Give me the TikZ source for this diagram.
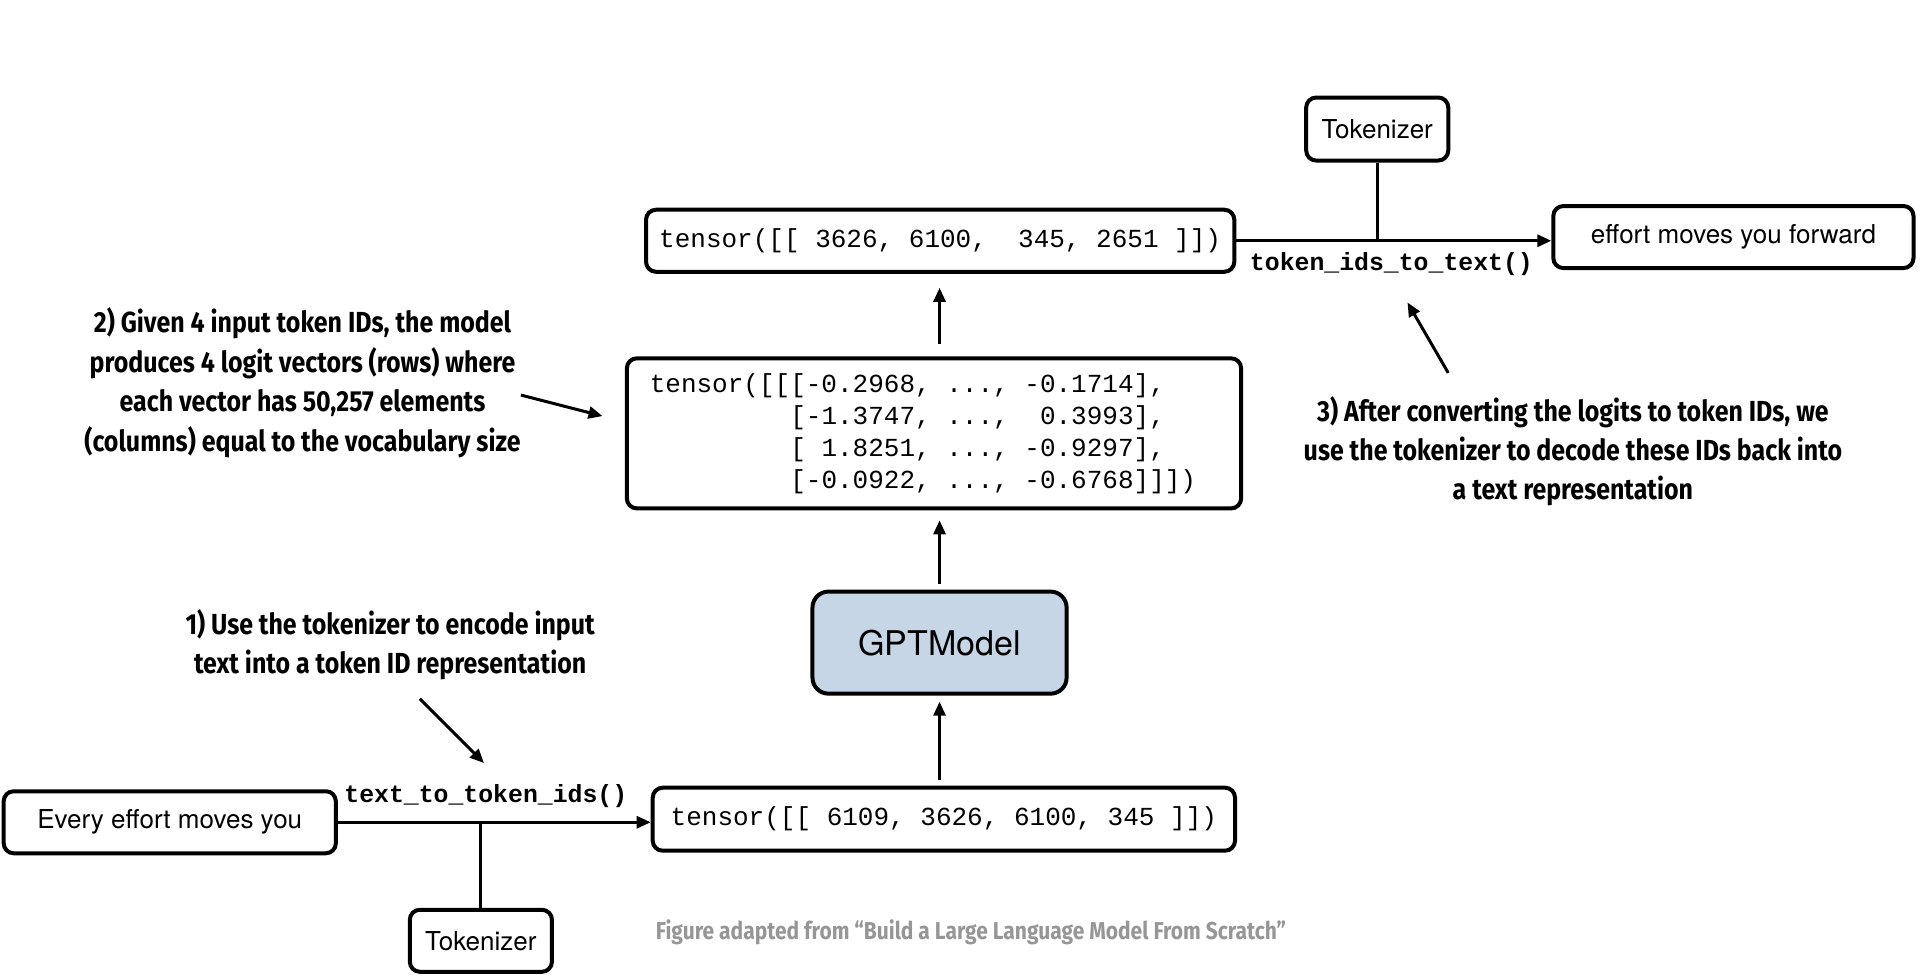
\documentclass[tikz,border=0pt]{standalone}
\usepackage{fontspec}
\setmainfont{TeX Gyre Heros}
\newfontfamily\codefont{Liberation Mono}
\newfontfamily\notefont[FakeStretch=0.86]{Fira Sans}
\usetikzlibrary{arrows.meta}
\definecolor{modelblue}{RGB}{199,214,230}
\definecolor{capgray}{RGB}{150,150,150}
\tikzset{
  box/.style={draw, line width=2pt, rounded corners=5pt, inner sep=0pt,
    font=\fontsize{13}{16}\selectfont},
  codebox/.style={box, font=\codefont\fontsize{13}{16}\selectfont},
  fnlabel/.style={inner sep=0pt, font=\codefont\bfseries\fontsize{12.4}{15}\selectfont},
  note/.style={inner sep=0pt, align=center, font=\notefont\bfseries\fontsize{14.5}{19.7}\selectfont},
  flow/.style={line width=1.5pt, -{Triangle[length=7pt,width=6pt]}},
  link/.style={line width=1.5pt}
}
\begin{document}
\begin{tikzpicture}[x=6.17pt,y=-6.17pt]
\useasboundingbox (0,0) rectangle (156,79.2);
% boxes
\node[box, minimum width=166pt, minimum height=31pt] (intext) at (13.75,66.6) {Every effort moves you};
\node[box, minimum width=71pt, minimum height=31pt] (tokL) at (38.95,76.2) {Tokenizer};
\node[codebox, minimum width=291pt, minimum height=31.5pt] (inids) at (76.45,66.35) {tensor([[ 6109, 3626, 6100, 345 ]])};
\node[box, fill=modelblue, minimum width=127pt, minimum height=51pt, rounded corners=8pt,
  font=\fontsize{17}{20}\selectfont] (gpt) at (76.1,52.05) {GPTModel};
\node[codebox, align=left, minimum width=307pt, minimum height=75pt] (logits) at (75.65,35.1)
  {tensor([[[-0.2968, ..., -0.1714],\\
   \hphantom{tensor([[}[-1.3747, ...,~ 0.3993],\\
   \hphantom{tensor([[}[ 1.8251, ..., -0.9297],\\
   \hphantom{tensor([[}[-0.0922, ..., -0.6768]]])\hspace*{11pt}};
\node[codebox, minimum width=294pt, minimum height=31pt] (outids) at (76.15,19.5) {tensor([[ 3626, 6100,~ 345, 2651 ]])};
\node[box, minimum width=71pt, minimum height=31.5pt] (tokR) at (111.55,10.45) {Tokenizer};
\node[box, minimum width=180pt, minimum height=31pt] (outtext) at (140.4,19.2) {effort moves you forward};
% function labels
\node[fnlabel] (encode) at (39.35,64.5) {text\_to\_token\_ids()};
\node[fnlabel] (decode) at (112.7,21.4) {token\_ids\_to\_text()};
% notes
\node[note] (note1) at (31.6,52.2) {1) Use the tokenizer to encode input\\text into a token ID representation};
\node[note] (note2) at (24.5,31.0) {2) Given 4 input token IDs, the model\\produces 4 logit vectors (rows) where\\each vector has 50,257 elements\\(columns) equal to the vocabulary size};
\node[note] (note3) at (127.4,36.55) {3) After converting the logits to token IDs, we\\use the tokenizer to decode these IDs back into\\a text representation};
\node[inner sep=0pt, text=capgray, font=\notefont\bfseries\fontsize{12.2}{14}\selectfont] (credit) at (78.65,75.5)
  {Figure adapted from “Build a Large Language Model From Scratch”};
% connectors
\draw[flow] (intext.east) -- (intext.east -| inids.west);
\draw[link] (tokL.north) -- (tokL.north |- intext.east);
\draw[flow, shorten <=3pt, shorten >=3pt] (gpt.south |- inids.north) -- (gpt.south);
\draw[flow, shorten <=3pt, shorten >=5pt] (gpt.north) -- (gpt.north |- logits.south);
\draw[flow, shorten <=6pt, shorten >=7pt] (gpt.north |- logits.north) -- (gpt.north |- outids.south);
\draw[flow] (outids.east) -- (outids.east -| outtext.west);
\draw[link] (tokR.south) -- (tokR.south |- outids.east);
% note pointers
\coordinate (p1) at (34.0,56.6);
\coordinate (p2) at (42.2,32.0);
\coordinate (p3) at (117.3,30.2);
\draw[flow] (p1) -- (39.2,61.8);
\draw[flow] (p2) -- (48.8,33.7);
\draw[flow] (p3) -- (114.0,24.5);
\end{tikzpicture}
\end{document}
